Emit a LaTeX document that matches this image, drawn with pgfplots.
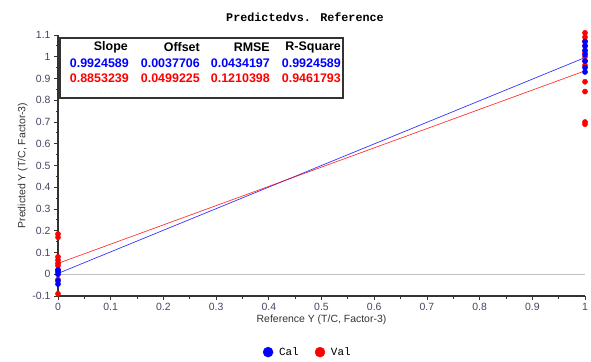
\documentclass[border=0pt]{standalone}
\usepackage{pgfplots}
\pgfplotsset{compat=1.18}
\usepackage{fontspec}
\setmainfont{Liberation Sans}
\newfontfamily\monofont{Liberation Mono}
\definecolor{ticklab}{HTML}{4A4262}
\definecolor{axgray}{HTML}{333333}
\definecolor{cblue}{HTML}{0000FF}
\definecolor{cred}{HTML}{FF0000}
\begin{document}
\begin{tikzpicture}[x=1bp,y=1bp]
\begin{axis}[
  at={(58bp,65bp)}, anchor=south west,
  scale only axis, width=527bp, height=261bp,
  xmin=0, xmax=1, ymin=-0.1, ymax=1.1,
  clip=false,
  axis x line=bottom, axis y line=left,
  axis line style={-, axgray, line width=1.3pt},
  xtick={0,0.1,0.2,0.3,0.4,0.5,0.6,0.7,0.8,0.9,1},
  ytick={-0.1,0,0.1,0.2,0.3,0.4,0.5,0.6,0.7,0.8,0.9,1,1.1},
  xticklabels={0,0.1,0.2,0.3,0.4,0.5,0.6,0.7,0.8,0.9,1},
  yticklabels={-0.1,0,0.1,0.2,0.3,0.4,0.5,0.6,0.7,0.8,0.9,1,1.1},
  minor tick num=1,
  tick align=outside,
  major tick length=4bp, minor tick length=2.5bp,
  tick style={axgray, line width=0.8pt},
  /pgf/number format/assume math mode=true,
  tick label style={font=\fontsize{10.5}{12}\selectfont, text=ticklab},
  xlabel={Reference Y (T/C, Factor-3)},
  ylabel={Predicted Y (T/C, Factor-3)},
  label style={font=\fontsize{10.5}{12}\selectfont, text=axgray},
  xlabel style={yshift=3bp},
  ylabel style={yshift=-2bp},
  legend columns=2,
  legend style={at={(0.474,-0.215)}, anchor=center, draw=none, fill=none,
    font=\monofont\fontsize{11}{13}\selectfont,
    /tikz/every even column/.append style={column sep=14bp}},
  legend image code/.code={\path[draw=none,fill=none] (0bp,-0.1bp) rectangle (14bp,0.1bp); \fill (5bp,0bp) circle (5bp);},
]
\addplot[color=black!25, line width=1pt, forget plot] coordinates {(0,0) (1,0)};
\addplot[color=cblue, opacity=0.8, line width=0.7pt, forget plot] coordinates {(0,0.0037706) (1,0.9962295)};
\addplot[color=cred, opacity=0.8, line width=0.7pt, forget plot] coordinates {(0,0.0499225) (1,0.9352464)};
\addplot[only marks, mark=*, mark size=2.6bp, color=cred, forget plot] coordinates {
 (0,0.185) (0,0.17) (0,0.08) (0,0.065) (0,0.05) (0,0.04) (0,0.02) (0,-0.025) (0,-0.09)
 (1,1.11) (1,1.09) (1,1.07) (1,1.05) (1,1.02) (1,1.0) (1,0.98) (1,0.96) (1,0.885) (1,0.84) (1,0.70) (1,0.69)};
\addplot[only marks, mark=*, mark size=2.6bp, color=cblue, forget plot] coordinates {
 (0,0.02) (0,0.01) (0,0.0) (0,-0.03) (0,-0.045)
 (1,1.07) (1,1.05) (1,1.03) (1,1.01) (1,0.98) (1,0.95) (1,0.93)};
\addlegendimage{color=cblue}
\addlegendentry{Cal}
\addlegendimage{color=cred}
\addlegendentry{Val}
\end{axis}
% title
\node[font=\monofont\bfseries\fontsize{11.8}{14}\selectfont] at (305,344) {Predictedvs. Reference};
% stats box
\draw[axgray, line width=1.3pt] (60,323) rectangle (343,263);
\begin{scope}[every node/.style={anchor=east, inner sep=0pt, font=\bfseries\fontsize{12.5}{14}\selectfont}]
\node at (128,314) {Slope};
\node at (200,314) {Offset};
\node at (270,314) {RMSE};
\node at (341,314) {R-Square};
\node[text=cblue] at (129,298) {0.9924589};
\node[text=cblue] at (200,298) {0.0037706};
\node[text=cblue] at (270,298) {0.0434197};
\node[text=cblue] at (341,298) {0.9924589};
\node[text=cred] at (129,283) {0.8853239};
\node[text=cred] at (200,283) {0.0499225};
\node[text=cred] at (270,283) {0.1210398};
\node[text=cred] at (341,283) {0.9461793};
\end{scope}
\pgfresetboundingbox
\path (0,0) rectangle (591,361);
\end{tikzpicture}
\end{document}
